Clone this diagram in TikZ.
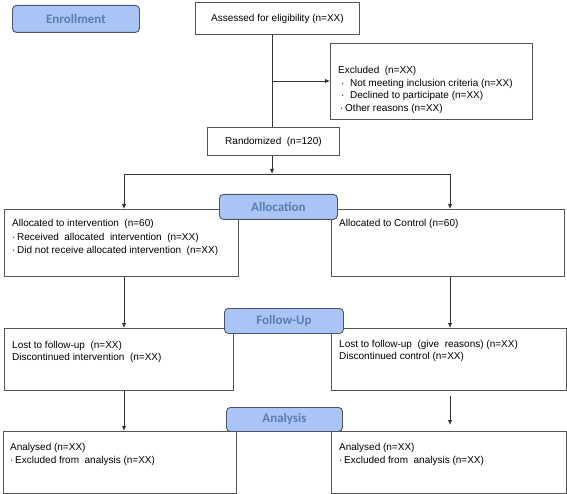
\documentclass[tikz,border=0pt]{standalone}
\usepackage{fontspec}
\setmainfont{Liberation Sans}
\newfontfamily\labelfont{Carlito}
\usetikzlibrary{arrows.meta}
\definecolor{lblfill}{HTML}{A9C4F5}
\definecolor{lbltext}{HTML}{5B7DB5}
\definecolor{lbldraw}{HTML}{4A5565}
\definecolor{boxdraw}{HTML}{555555}
\definecolor{linecol}{HTML}{333333}
\tikzset{
  box/.style={draw=boxdraw, line width=0.9pt, inner sep=0pt, fill=white, anchor=north west},
  stagelbl/.style={draw=lbldraw, line width=0.9pt, fill=lblfill, rounded corners=4pt,
     inner sep=0pt, anchor=north west, text=lbltext, font=\labelfont\bfseries\fontsize{13}{15}\selectfont},
  txt/.style={anchor=base west, inner sep=0pt, align=left,
     font=\fontsize{10}{12.5}\selectfont, text=black},
  ctxt/.style={font=\fontsize{10}{12}\selectfont},
  conn/.style={draw=linecol, line width=0.9pt},
  arr/.style={conn, -{Latex[length=5pt,width=4.5pt]}}
}
\begin{document}
\begin{tikzpicture}[x=1pt,y=-1pt]
\useasboundingbox (0,0) rectangle (567,494);
% boxes
\node[box, minimum width=164pt, minimum height=32pt, ctxt] (assess) at (195,2) {Assessed for eligibility (n=XX)};
\node[box, minimum width=202pt, minimum height=76pt] (excl) at (330,43) {};
\node[box, minimum width=132pt, minimum height=28pt, ctxt] (rand) at (207,127) {Randomized\ \ (n=120)};
\node[box, minimum width=234pt, minimum height=67pt] (allocL) at (4,209) {};
\node[box, minimum width=233pt, minimum height=67pt] (allocR) at (331,209) {};
\node[box, minimum width=229pt, minimum height=62pt] (followL) at (4,328) {};
\node[box, minimum width=235pt, minimum height=62pt] (followR) at (331,328) {};
\node[box, minimum width=233pt, minimum height=62pt] (anaL) at (3,431) {};
\node[box, minimum width=235pt, minimum height=62pt] (anaR) at (331,431) {};
% texts (anchored at the baseline of the last line)
\node[txt] (exclT) at (338,111.5) {Excluded\ \ (n=XX)\\
  \hspace{3pt}·\ \ Not meeting inclusion criteria (n=XX)\\
  \hspace{3pt}·\ \ Declined to participate (n=XX)\\
  \hspace{2pt}·\,Other reasons (n=XX)};
\node[txt, font=\fontsize{10}{13.8}\selectfont] (allocLT) at (12,254) {Allocated to intervention\ \ (n=60)\\
  ·\,Received\ \ allocated\ \ intervention\ \ (n=XX)\\
  ·\,Did not receive allocated intervention\ \ (n=XX)};
\node[txt] (allocRT) at (339,226) {Allocated to Control\ (n=60)};
\node[txt, font=\fontsize{10}{12}\selectfont] (followLT) at (12,360) {Lost to follow-up\ \ (n=XX)\\
  Discontinued intervention\ \ (n=XX)};
\node[txt, font=\fontsize{10}{12}\selectfont] (followRT) at (339,359) {Lost to follow-up\ \ (give\ \ reasons) (n=XX)\\
  Discontinued control (n=XX)};
\node[txt] (anaLT) at (10,463) {Analysed (n=XX)\\
  ·\,Excluded from\ \ analysis (n=XX)};
\node[txt] (anaRT) at (339,463) {Analysed (n=XX)\\
  ·\,Excluded from\ \ analysis (n=XX)};
% coordinates
\coordinate (c1) at (272,81);
\coordinate (s) at (272,174);
\coordinate (sl) at (124,174);
\coordinate (sr) at (450,174);
\coordinate (ra1) at (450,396);
\coordinate (ra2) at (450,425);
% connectors
\draw[conn] (assess.south -| c1) -- (rand.north -| c1);
\draw[arr] (c1) -- (excl.west |- c1);
\draw[arr] (rand.south -| s) -- (s);
\draw[conn] (sl) -- (sr);
\draw[arr] (sl) -- (allocL.north -| sl);
\draw[arr] (sr) -- (allocR.north -| sr);
\draw[arr] (allocL.south -| sl) -- (followL.north -| sl);
\draw[arr] (allocR.south -| sr) -- (followR.north -| sr);
\draw[arr] (followL.south -| sl) -- (anaL.north -| sl);
\draw[arr] (ra1) -- (ra2);
% stage labels
\node[stagelbl, minimum width=127pt, minimum height=27pt] (enroll) at (12,5) {Enrollment};
\node[stagelbl, minimum width=118pt, minimum height=25pt] (allocation) at (219,194) {Allocation};
\node[stagelbl, minimum width=119pt, minimum height=25pt] (followup) at (224,308) {Follow-Up};
\node[stagelbl, minimum width=116pt, minimum height=24pt] (analysis) at (226,407) {Analysis};
\end{tikzpicture}
\end{document}
